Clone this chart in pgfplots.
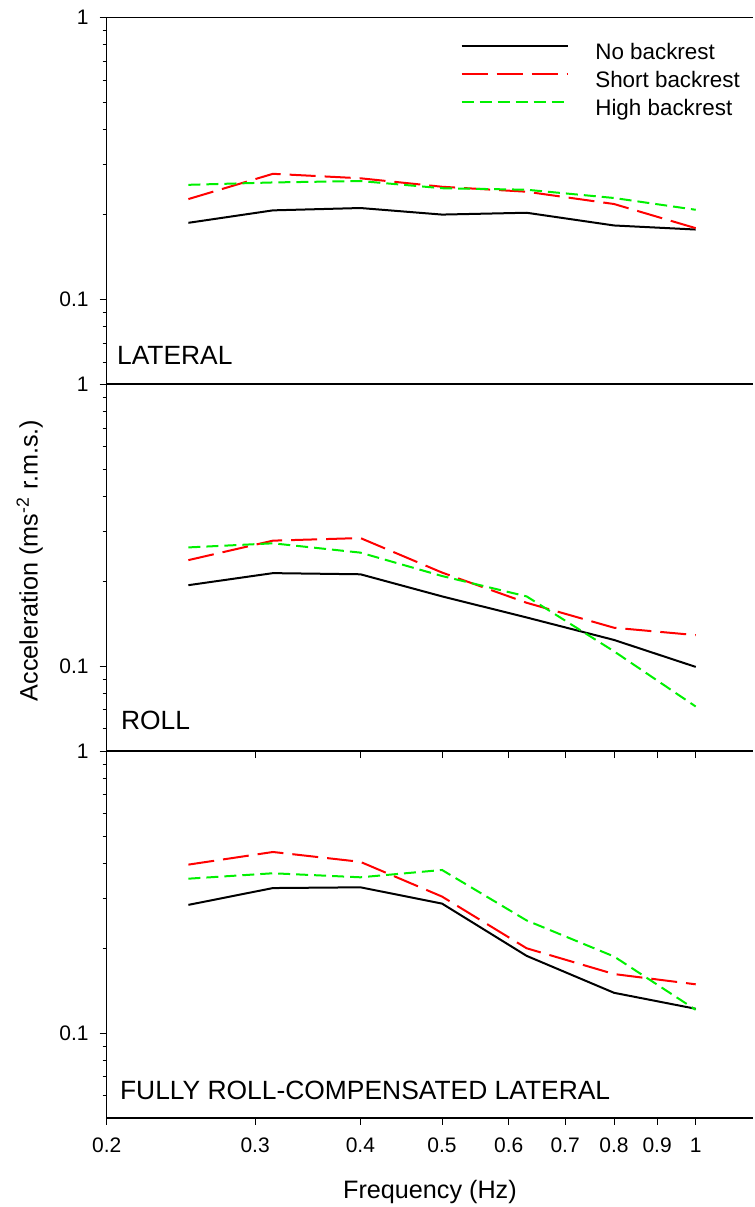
\documentclass[border=0pt]{standalone}
\usepackage{fontspec}
\setmainfont{Liberation Sans}
\usepackage{pgfplots}
\pgfplotsset{compat=1.18}

\definecolor{sred}{RGB}{255,0,0}
\definecolor{sgreen}{RGB}{0,240,0}

\tikzset{
  nobline/.style={black, line width=1pt},
  shortline/.style={sred, line width=1pt, dash pattern=on 13pt off 4.5pt},
  highline/.style={sgreen, line width=1pt, dash pattern=on 6pt off 3pt},
  panellabel/.style={anchor=west, inner sep=0pt, font=\fontsize{13.2}{15}\selectfont},
}

\begin{document}
\begin{tikzpicture}
% ---------------- LATERAL ----------------
\begin{axis}[name=top,
  scale only axis, width=323.2pt, height=183.4pt,
  xmode=log, ymode=log,
  xmin=0.2, xmax=1.17, ymin=0.05, ymax=1,
  axis x line*=bottom, axis y line*=left,
  x axis line style={line width=1pt},
  y axis line style={line width=0.5pt},
  ytick={0.1,1}, yticklabels={0.1,1},
  minor ytick={0.06,0.07,0.08,0.09,0.2,0.3,0.4,0.5,0.6,0.7,0.8,0.9},
  xtick=\empty,
  tick align=outside, tick style={black, line width=0.5pt},
  major tick length=3.5pt, minor tick length=2pt,
  yticklabel style={font=\fontsize{10.5}{12}\selectfont, xshift=-2pt},
  clip=false,
  legend style={at={(rel axis cs:0.547,0.93)}, anchor=north west,
    draw=none, fill=none, inner sep=0pt, row sep=4pt,
    font=\fontsize{11.2}{13}\selectfont,
    nodes={inner sep=0pt, text height=8pt, text depth=2pt}},
  legend cell align=left,
  legend image code/.code={\draw[#1] (0pt,4pt) -- (53.3pt,4pt); \path (66.3pt,4pt);},
]
\addplot[nobline] coordinates {(0.25,0.187) (0.315,0.207) (0.4,0.211) (0.5,0.200) (0.63,0.203) (0.8,0.183) (1,0.177)};
\addlegendentry{No backrest}
\addplot[shortline] coordinates {(0.25,0.227) (0.315,0.279) (0.4,0.269) (0.5,0.251) (0.63,0.241) (0.8,0.218) (1,0.179)};
\addlegendentry{Short backrest}
\addplot[highline] coordinates {(0.25,0.255) (0.315,0.260) (0.4,0.263) (0.5,0.248) (0.63,0.245) (0.8,0.229) (1,0.208)};
\addlegendentry{High backrest}
\draw[line width=0.5pt] (rel axis cs:0,1) -- (rel axis cs:1,1);
\node[panellabel, xshift=5pt, yshift=14.5pt] at (rel axis cs:0,0) {LATERAL};
\coordinate (tl) at (rel axis cs:0,1);
\coordinate (tr) at (rel axis cs:1,1);
\end{axis}

% ---------------- ROLL ----------------
\begin{axis}[name=mid, at={(top.south west)}, anchor=north west,
  scale only axis, width=323.2pt, height=183.4pt,
  xmode=log, ymode=log,
  xmin=0.2, xmax=1.17, ymin=0.05, ymax=1,
  axis x line*=bottom, axis y line*=left,
  x axis line style={line width=1pt},
  y axis line style={line width=0.5pt},
  ytick={0.1,1}, yticklabels={0.1,1},
  minor ytick={0.06,0.07,0.08,0.09,0.2,0.3,0.4,0.5,0.6,0.7,0.8,0.9},
  xtick={0.2,0.3,0.4,0.5,0.6,0.7,0.8,0.9,1}, xticklabels={},
  tick align=outside, tick style={black, line width=0.5pt},
  major tick length=3.5pt, minor tick length=2pt,
  yticklabel style={font=\fontsize{10.5}{12}\selectfont, xshift=-2pt},
  clip=false,
  ylabel={Acceleration (ms\textsuperscript{-2} r.m.s.)},
  ylabel style={at={(axis description cs:-0.119,0.52)}, anchor=center,
    inner sep=0pt, font=\fontsize{12.6}{15}\selectfont},
]
\addplot[nobline] coordinates {(0.25,0.194) (0.315,0.214) (0.4,0.212) (0.5,0.177) (0.63,0.149) (0.8,0.124) (1,0.0995)};
\addplot[shortline] coordinates {(0.25,0.238) (0.315,0.279) (0.4,0.285) (0.5,0.215) (0.63,0.168) (0.8,0.137) (1,0.129)};
\addplot[highline] coordinates {(0.25,0.264) (0.315,0.273) (0.4,0.253) (0.5,0.209) (0.63,0.177) (0.8,0.113) (1,0.072)};
\node[panellabel, xshift=7pt, yshift=15.5pt] at (rel axis cs:0,0) {ROLL};
\end{axis}

% ---------------- FULLY ROLL-COMPENSATED LATERAL ----------------
\begin{axis}[name=bot, at={(mid.south west)}, anchor=north west,
  scale only axis, width=323.2pt, height=183.4pt,
  xmode=log, ymode=log,
  xmin=0.2, xmax=1.17, ymin=0.05, ymax=1,
  axis x line*=bottom, axis y line*=left,
  x axis line style={line width=1pt},
  y axis line style={line width=0.5pt},
  ytick={0.1,1}, yticklabels={0.1,1},
  minor ytick={0.06,0.07,0.08,0.09,0.2,0.3,0.4,0.5,0.6,0.7,0.8,0.9},
  xtick={0.2,0.3,0.4,0.5,0.6,0.7,0.8,0.9,1},
  xticklabels={0.2,0.3,0.4,0.5,0.6,0.7,0.8,0.9,1},
  tick align=outside, tick style={black, line width=0.5pt},
  major tick length=3.5pt, minor tick length=2pt,
  yticklabel style={font=\fontsize{10.5}{12}\selectfont, xshift=-2pt},
  xticklabel style={font=\fontsize{10.5}{12}\selectfont, yshift=-3pt},
  clip=false,
  xlabel={Frequency (Hz)},
  xlabel style={at={(axis description cs:0.5,0)}, anchor=center,
    yshift=-37pt, inner sep=0pt, font=\fontsize{12.6}{15}\selectfont},
]
\addplot[nobline] coordinates {(0.25,0.285) (0.315,0.327) (0.4,0.329) (0.5,0.288) (0.63,0.188) (0.8,0.139) (1,0.122)};
\addplot[shortline] coordinates {(0.25,0.396) (0.315,0.439) (0.4,0.405) (0.5,0.305) (0.63,0.200) (0.8,0.162) (1,0.149)};
\addplot[highline] coordinates {(0.25,0.353) (0.315,0.369) (0.4,0.357) (0.5,0.379) (0.63,0.251) (0.8,0.187) (1,0.121)};
\node[panellabel, xshift=6.5pt, yshift=13.8pt] at (rel axis cs:0,0) {FULLY ROLL-COMPENSATED LATERAL};
\coordinate (bl) at (rel axis cs:0,0);
\end{axis}

\path (tl) ++(-53.35pt,8.75pt);
\path (tr) ++(0pt,8.75pt);
\path (bl) ++(-53.35pt,-44.5pt);
\end{tikzpicture}
\end{document}
